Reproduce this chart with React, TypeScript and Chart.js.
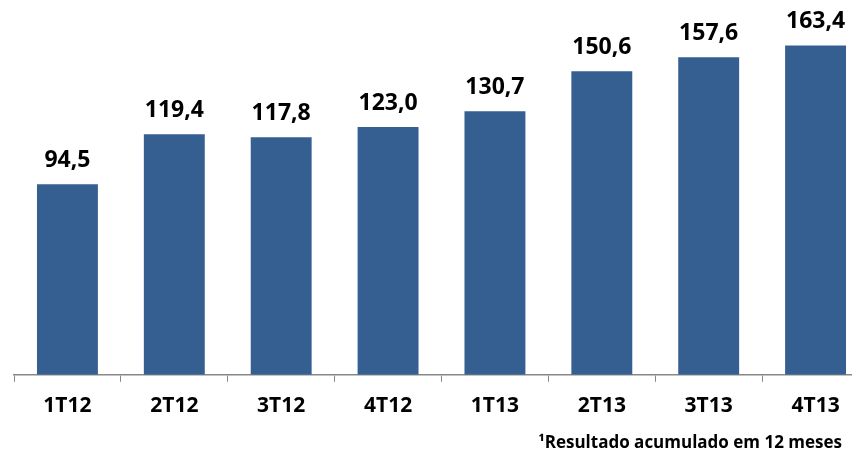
import React, { useEffect, useRef } from "react";
import { Chart, registerables } from "chart.js";

Chart.register(...registerables);

const categories = ["1T12", "2T12", "3T12", "4T12", "1T13", "2T13", "3T13", "4T13"];
const values = [94.5, 119.4, 117.8, 123.0, 130.7, 150.6, 157.6, 163.4];
const footnote = "¹Resultado acumulado em 12 meses";

const fmt = (v: number) => v.toFixed(1).replace(".", ",");

const labelPlugin = {
  id: "labels",
  afterDatasetsDraw(chart: any) {
    const ctx = chart.ctx;
    const meta = chart.getDatasetMeta(0);
    ctx.save();
    ctx.fillStyle = "#000";
    ctx.font = "bold 23px 'Open Sans'";
    ctx.textAlign = "center";
    ctx.textBaseline = "alphabetic";
    meta.data.forEach((bar: any, i: number) => {
      ctx.fillText(fmt(values[i]), bar.x, bar.y - 17);
    });
    ctx.font = "bold 17px 'Open Sans'";
    ctx.textAlign = "right";
    ctx.fillText(footnote, 842, 448);
    ctx.restore();
  },
};

export default function App() {
  const ref = useRef<HTMLCanvasElement>(null);
  useEffect(() => {
    document.body.style.margin = "0";
    const chart = new Chart(ref.current!, {
      type: "bar",
      data: {
        labels: categories,
        datasets: [
          {
            data: values,
            backgroundColor: "#365F91",
            barPercentage: 0.57,
            categoryPercentage: 1,
          },
        ],
      },
      options: {
        animation: false,
        responsive: false,
        maintainAspectRatio: false,
        layout: { padding: { left: 14, right: 11, top: 12, bottom: 24 } },
        plugins: { legend: { display: false }, tooltip: { enabled: false } },
        scales: {
          y: { display: false, min: 0, max: 180 },
          x: {
            grid: { drawOnChartArea: false, tickLength: 7, color: "#888", offset: true },
            border: { color: "#888", width: 1.5 },
            ticks: {
              color: "#000",
              font: { family: "'Open Sans'", size: 21, weight: "bold" },
              padding: 12,
            },
          },
        },
      },
      plugins: [labelPlugin],
    });
    return () => chart.destroy();
  }, []);
  return (
    <div style={{ width: 852, height: 455, overflow: "hidden", position: "relative" }}>
      <canvas ref={ref} width={880} height={455} style={{ width: 880, height: 455 }} />
    </div>
  );
}
